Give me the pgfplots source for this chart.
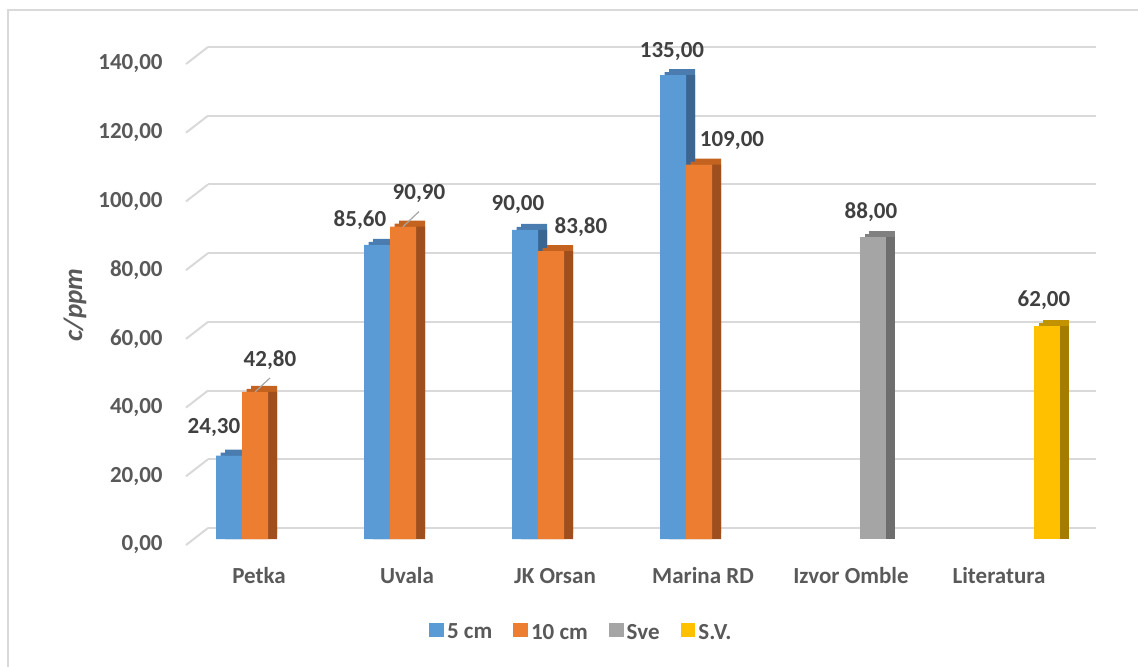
\documentclass[border=0pt]{standalone}
\usepackage{pgfplots}
\usepackage{pgfplotstable}
\pgfplotsset{compat=1.18}
\usepackage{fontspec}
\setmainfont{Carlito}

\definecolor{cblue}{HTML}{5B9BD5}
\definecolor{cbluetop}{HTML}{4A7CB0}
\definecolor{cblueside}{HTML}{3C6692}
\definecolor{corange}{HTML}{ED7D31}
\definecolor{corangetop}{HTML}{C4621F}
\definecolor{corangeside}{HTML}{9E4F1D}
\definecolor{cgray}{HTML}{A5A5A5}
\definecolor{cgraytop}{HTML}{808080}
\definecolor{cgrayside}{HTML}{6E6E6E}
\definecolor{cyellow}{HTML}{FFC000}
\definecolor{cyellowtop}{HTML}{C29200}
\definecolor{cyellowside}{HTML}{A67C00}
\definecolor{gridcol}{HTML}{D9D9D9}
\definecolor{labcol}{HTML}{595959}
\definecolor{numcol}{HTML}{404040}

\newcommand{\lblfont}{\bfseries\fontsize{11.5}{13}\selectfont}

% x = category, y = value, dx/dy = label offset from category centre, in pt
\pgfplotstableread{
x y    dx    dy
0 24.3 -27   14
1 85.6 -28   12.5
2 90.0 -23   12.5
3 135  -20   12
}\tfive
\pgfplotstableread{
x y    dx    dy
0 42.8 1     16
1 90.9 1.5   16.5
2 83.8 8.5   12
3 109  10    12
}\tten
\pgfplotstableread{
x y  dx  dy
4 88 5.5 12.5
}\tsve
\pgfplotstableread{
x y  dx dy
5 62 18 13
}\tsv

\pgfplotsset{
  lbl/.style={
    nodes near coords={\pgfmathprintnumber[fixed,fixed zerofill,precision=2,use comma,assume math mode=true]{\pgfplotspointmeta}},
    visualization depends on={\thisrow{dx}\as\dx},
    visualization depends on={\thisrow{dy}\as\dy},
    every node near coord/.append style={anchor=center, xshift=\dx pt, yshift=\dy pt, font=\lblfont, text=numcol}
  },
  bar/.style={ybar, bar width=13pt, draw=none},
  shade/.style={bar, forget plot}
}

\begin{document}
\begin{tikzpicture}[x=1pt,y=1pt]
\useasboundingbox (0,0) rectangle (569,333);
\draw[gridcol, line width=0.75pt] (4,-2) -- (4,328) -- (571,328);

% back wall with gridlines
\begin{axis}[
  at={(104pt,69pt)}, anchor=south west, scale only axis,
  width=444pt, height=240.5pt,
  xmin=-0.5, xmax=5.5, ymin=0, ymax=140,
  xtick=\empty, ytick={0,20,...,140},
  axis line style={draw=none}, major tick length=0pt,
  ymajorgrids, grid style={gridcol, line width=1pt},
  yticklabel={\pgfmathprintnumber[fixed,fixed zerofill,precision=2,use comma,assume math mode=true]{\tick}},
  yticklabel style={anchor=east, inner sep=0pt, xshift=-22.5pt, yshift=-8.5pt, font=\lblfont, text=labcol},
  clip=false]
\pgfplotsinvokeforeach{0,20,...,140}{\draw[gridcol, line width=1pt] (axis cs:-0.5,#1) -- ++(-11pt,-8.5pt);}
\end{axis}

% bars
\begin{axis}[
  at={(97pt,63.5pt)}, anchor=south west, scale only axis,
  width=444pt, height=240.5pt,
  xmin=-0.5, xmax=5.5, ymin=0, ymax=140,
  xtick={0,...,5},
  xticklabels={Petka,Uvala,JK Orsan,Marina RD,Izvor Omble,Literatura},
  ytick=\empty, axis line style={draw=none}, major tick length=0pt,
  xticklabel style={anchor=base, inner sep=0pt, xshift=-4.5pt, yshift=-22pt, font=\lblfont, text=labcol},
  clip=false,
  legend style={at={(0.437,-0.1954)}, anchor=center, draw=none, fill=none,
    legend columns=4, font=\lblfont, text=labcol,
    nodes={inner sep=1.6pt},
    /tikz/every even column/.append style={column sep=9pt}},
  legend image code/.code={\fill[#1] (0pt,-2.1pt) rectangle (7.2pt,5.1pt);},
]
% 5 cm
\addplot[shade, fill=cbluetop, bar shift=-15pt, yshift=3pt] table[x=x,y=y]{\tfive};
\addplot[shade, fill=cbluetop, bar shift=-17.25pt, yshift=1.5pt] table[x=x,y=y]{\tfive};
\addplot[shade, fill=cblueside, bar shift=-15pt] table[x=x,y=y]{\tfive};
\addplot[bar, fill=cblue, bar shift=-19.5pt, lbl] table[x=x,y=y]{\tfive};
\addlegendentry{5 cm}
% 10 cm
\addplot[shade, fill=corangetop, bar shift=-2pt, yshift=3pt] table[x=x,y=y]{\tten};
\addplot[shade, fill=corangetop, bar shift=-4.25pt, yshift=1.5pt] table[x=x,y=y]{\tten};
\addplot[shade, fill=corangeside, bar shift=-2pt] table[x=x,y=y]{\tten};
\addplot[bar, fill=corange, bar shift=-6.5pt, lbl] table[x=x,y=y]{\tten};
\addlegendentry{10 cm}
% Sve
\addplot[shade, fill=cgraytop, bar shift=11pt, yshift=3pt] table[x=x,y=y]{\tsve};
\addplot[shade, fill=cgraytop, bar shift=8.75pt, yshift=1.5pt] table[x=x,y=y]{\tsve};
\addplot[shade, fill=cgrayside, bar shift=11pt] table[x=x,y=y]{\tsve};
\addplot[bar, fill=cgray, bar shift=6.5pt, lbl] table[x=x,y=y]{\tsve};
\addlegendentry{Sve}
% S.V.
\addplot[shade, fill=cyellowtop, bar shift=24pt, yshift=3pt] table[x=x,y=y]{\tsv};
\addplot[shade, fill=cyellowtop, bar shift=21.75pt, yshift=1.5pt] table[x=x,y=y]{\tsv};
\addplot[shade, fill=cyellowside, bar shift=24pt] table[x=x,y=y]{\tsv};
\addplot[bar, fill=cyellow, bar shift=19.5pt, lbl] table[x=x,y=y]{\tsv};
\addlegendentry{S.V.}
% leader lines
\addplot[gray!70, line width=0.6pt, no marks, forget plot] coordinates {(-0.088,42.8) (0.014,46.9)};
\addplot[gray!70, line width=0.6pt, no marks, forget plot] coordinates {(0.912,90.9) (1.020,95.3)};
\end{axis}

\node[rotate=90, font=\bfseries\itshape\fontsize{13.5}{15}\selectfont, text=labcol] at (37.5,180.5) {c/ppm};
\end{tikzpicture}
\end{document}
